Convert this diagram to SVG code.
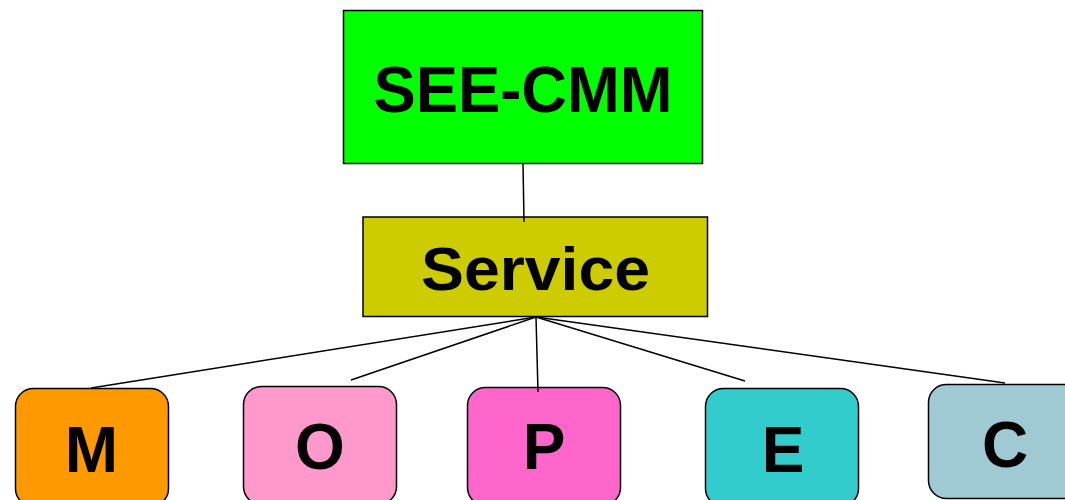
<svg xmlns="http://www.w3.org/2000/svg" width="1065" height="500" viewBox="0 0 1065 500">
<style>
.box{stroke:#000;stroke-width:1.5}
.lbl{font-family:"Liberation Sans",Arial,sans-serif;font-weight:bold;fill:#000;text-anchor:middle}
.conn line{stroke:#000;stroke-width:1.5}
</style>
<rect width="1065" height="500" fill="#fff"/>
<g id="node-seecmm">
<rect class="box" x="343.5" y="10.5" width="359" height="153" fill="#00FF00"/>
<text class="lbl" x="523" y="112" font-size="64" textLength="299" lengthAdjust="spacingAndGlyphs">SEE-CMM</text>
</g>
<g id="node-service">
<rect class="box" x="363" y="217" width="344.5" height="99.5" fill="#CCCC00"/>
<text class="lbl" x="535.5" y="290" font-size="61" textLength="229" lengthAdjust="spacingAndGlyphs">Service</text>
</g>
<g id="node-m">
<rect class="box" x="15.5" y="388.5" width="153" height="118" rx="18" fill="#FF9900"/>
<text class="lbl" x="91.5" y="471.5" font-size="64">M</text>
</g>
<g id="node-o">
<rect class="box" x="243.5" y="386.5" width="153" height="118" rx="18" fill="#FF99CC"/>
<text class="lbl" x="320" y="469" font-size="64">O</text>
</g>
<g id="node-p">
<rect class="box" x="467.5" y="387.5" width="153" height="118" rx="18" fill="#FF66CC"/>
<text class="lbl" x="544" y="469" font-size="64">P</text>
</g>
<g id="node-e">
<rect class="box" x="705.5" y="388.5" width="153" height="118" rx="18" fill="#33CCCC"/>
<text class="lbl" x="783" y="471.5" font-size="64">E</text>
</g>
<g id="node-c">
<rect class="box" x="928.5" y="384.5" width="153" height="114" rx="18" fill="#A0CAD3"/>
<text class="lbl" x="1005" y="467" font-size="64">C</text>
</g>
<g id="connectors" class="conn">
<line x1="523" y1="163" x2="524" y2="222"/>
<line x1="536" y1="317" x2="91" y2="388"/>
<line x1="536" y1="317" x2="351" y2="380"/>
<line x1="536" y1="317" x2="538" y2="392"/>
<line x1="536" y1="317" x2="745" y2="381"/>
<line x1="536" y1="317" x2="1005" y2="383"/>
</g>
</svg>
